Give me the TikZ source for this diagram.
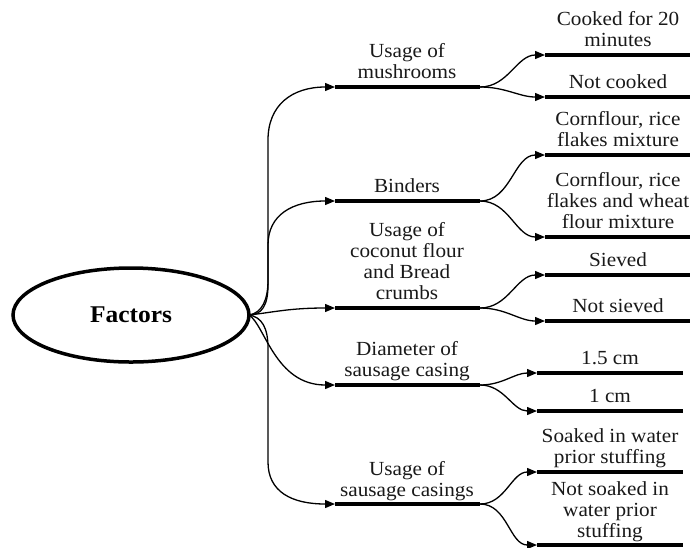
\documentclass[tikz,border=0pt]{standalone}
\usepackage{fontspec}
\setmainfont{Liberation Serif}[FakeStretch=1.06]
\usetikzlibrary{shapes.geometric,arrows.meta}
\begin{document}
\begin{tikzpicture}[x=1pt,y=-1pt,
  lbl/.style={font=\fontsize{20}{21}\selectfont, align=center, anchor=south, inner sep=0pt, text depth=0pt, text=black!90},
  bar/.style={line width=4pt},
  arr/.style={line width=1.3pt, -{Triangle[length=10pt,width=8pt]}},
  ]
\useasboundingbox (0,0) rectangle (692,547);
% root
\node[ellipse, draw, line width=3.5pt, minimum width=236pt, minimum height=94pt, inner sep=0pt, outer sep=0pt,
      font=\bfseries\fontsize{24}{26}\selectfont] (f) at (131,315) {Factors};
% level-1 bars
\coordinate (mA) at (335,87);  \coordinate (mB) at (480,87);
\coordinate (bA) at (335,201); \coordinate (bB) at (480,201);
\coordinate (cA) at (335,308); \coordinate (cB) at (480,308);
\coordinate (dA) at (335,385); \coordinate (dB) at (480,385);
\coordinate (sA) at (335,504); \coordinate (sB) at (480,504);
\foreach \n in {m,b,c,d,s} \draw[bar] (\n A) -- (\n B);
\node[lbl] (tm) at (407,79) {Usage of\\mushrooms};
\node[lbl] (tb) at (407,193) {Binders};
\node[lbl] (tc) at (407,300) {Usage of\\coconut flour\\and Bread\\crumbs};
\node[lbl] (td) at (407,377) {Diameter of\\sausage casing};
\node[lbl] (ts) at (407,497) {Usage of\\sausage casings};
% level-2 bars
\coordinate (m1A) at (545,55);  \coordinate (m1B) at (690,55);
\coordinate (m2A) at (545,97);  \coordinate (m2B) at (690,97);
\coordinate (b1A) at (545,155); \coordinate (b1B) at (690,155);
\coordinate (b2A) at (545,237); \coordinate (b2B) at (690,237);
\coordinate (c1A) at (545,275); \coordinate (c1B) at (690,275);
\coordinate (c2A) at (545,321); \coordinate (c2B) at (690,321);
\coordinate (d1A) at (537,373); \coordinate (d1B) at (683,373);
\coordinate (d2A) at (537,411); \coordinate (d2B) at (683,411);
\coordinate (s1A) at (537,472); \coordinate (s1B) at (683,472);
\coordinate (s2A) at (537,545); \coordinate (s2B) at (683,545);
\foreach \n in {m1,m2,b1,b2,c1,c2,d1,d2,s1,s2} \draw[bar] (\n A) -- (\n B);
\node[lbl] (tm1) at (618,47) {Cooked for 20\\minutes};
\node[lbl] (tm2) at (618,89) {Not cooked};
\node[lbl] (tb1) at (618,147) {Cornflour, rice\\flakes mixture};
\node[lbl] (tb2) at (618,229) {Cornflour, rice\\flakes and wheat\\flour mixture};
\node[lbl] (tc1) at (618,267) {Sieved};
\node[lbl] (tc2) at (618,313) {Not sieved};
\node[lbl] (td1) at (610,365) {1.5 cm};
\node[lbl] (td2) at (610,403) {1 cm};
\node[lbl] (ts1) at (610,464) {Soaked in water\\prior stuffing};
\node[lbl] (ts2) at (610,538) {Not soaked in\\water prior\\stuffing};
% root connectors
\draw[arr] (f.east) .. controls (262,315) and (268,305) .. (268,285) -- (268,140) .. controls (268,105) and (292,87) .. (mA);
\draw[arr] (f.east) .. controls (262,313) and (268,300) .. (268,280) -- (268,245) .. controls (268,215) and (292,201) .. (bA);
\draw[arr] (f.east) .. controls (275,312) and (290,308) .. (cA);
\draw[arr] (f.east) .. controls (265,325) and (275,385) .. (dA);
\draw[arr] (f.east) .. controls (262,317) and (268,328) .. (268,348) -- (268,462) .. controls (268,492) and (292,504) .. (sA);
% split connectors
\foreach \p/\k in {m/m1,m/m2,b/b1,b/b2,c/c1,c/c2,d/d1,d/d2,s/s1,s/s2}
  \draw[arr] (\p B) to[out=0,in=180] (\k A);
\end{tikzpicture}
\end{document}
